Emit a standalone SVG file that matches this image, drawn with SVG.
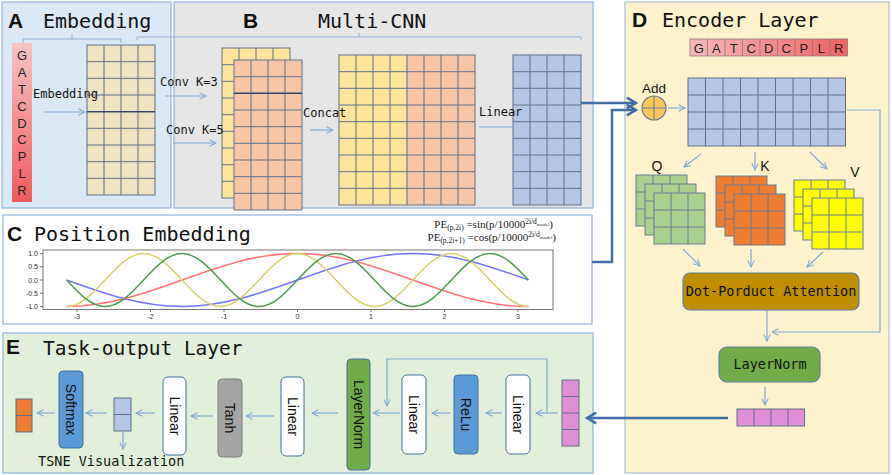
<svg xmlns="http://www.w3.org/2000/svg" xmlns:xlink="http://www.w3.org/1999/xlink" width="892" height="475" viewBox="0 0 892 475">
<style>
.title{font-family:"DejaVu Sans Mono","Liberation Mono",monospace;font-size:20px;fill:#111}
.letter{font-family:"Liberation Sans",Arial,sans-serif;font-weight:bold;font-size:21px;fill:#111}
.mono{font-family:"DejaVu Sans Mono","Liberation Mono",monospace;font-size:12px;fill:#111}
.seq{font-family:"Liberation Sans",Arial,sans-serif;font-size:13px;fill:#222;text-anchor:middle}
.sans{font-family:"Liberation Sans",Arial,sans-serif;font-size:14px;fill:#111;text-anchor:middle}
.vt{font-family:"Liberation Sans",Arial,sans-serif;font-size:14px;fill:#111;text-anchor:middle;dominant-baseline:central}
.grid{stroke:#5f6e86;stroke-width:1}
.gl{fill:none;stroke:#5f6e86;stroke-width:1}
.conn{fill:none;stroke:#7fa9d6;stroke-width:1.2}
.thick{fill:none;stroke:#3d6ea8;stroke-width:2.5}
.tick{font-family:"Liberation Sans",Arial,sans-serif;font-size:7px;fill:#333}
.box{stroke:#5f7fa6;stroke-width:1.2}
.frm{font-family:"Liberation Serif","Times New Roman",serif;font-size:11px;fill:#222}
</style>
<defs>
<marker id="ah" viewBox="0 0 10 10" refX="9" refY="5" markerWidth="8" markerHeight="8" orient="auto" markerUnits="userSpaceOnUse"><path d="M1,1 L9,5 L1,9" fill="none" stroke="#7fa9d6" stroke-width="1.3"/></marker>
<marker id="ahT" viewBox="0 0 12 12" refX="10.5" refY="6" markerWidth="13" markerHeight="13" orient="auto" markerUnits="userSpaceOnUse"><path d="M2,1 L10.5,6 L2,11" fill="none" stroke="#3d6ea8" stroke-width="2.4"/></marker>
<linearGradient id="seqV" x1="0" y1="0" x2="0" y2="1"><stop offset="0" stop-color="#f9c3c3"/><stop offset="1" stop-color="#ef5b5b"/></linearGradient>
<linearGradient id="seqH" x1="0" y1="0" x2="1" y2="0"><stop offset="0" stop-color="#f7b8b8"/><stop offset="1" stop-color="#ef6262"/></linearGradient>
<g id="g3"><rect width="51" height="51"/><path d="M17 0V51M34 0V51M0 17H51M0 34H51" fill="none"/></g>
</defs>

<!-- Panels -->
<g id="panelA">
<rect x="2" y="2" width="169" height="206" fill="#dbe8f5" stroke="#8fb3d9" stroke-width="1.2"/>
<text class="letter" x="8" y="28">A</text>
<text class="title" x="43" y="28">Embedding</text>
<path d="M23 43V39H121V43M72 39V35" fill="none" stroke="#8fb3d9" stroke-width="1"/>
</g>
<g id="panelB">
<rect x="174" y="2" width="419" height="206" fill="#e7e6e6" stroke="#8fb3d9" stroke-width="1.2"/>
<text class="letter" x="243" y="28">B</text>
<text class="title" x="318" y="28">Multi-CNN</text>
<path d="M137 40V37H581V40M359 37V33" fill="none" stroke="#8fb3d9" stroke-width="1"/>
</g>
<g id="panelC">
<rect x="3" y="215" width="589" height="109" fill="#ffffff" stroke="#8fb3d9" stroke-width="1.2"/>
<text class="letter" x="7" y="241">C</text>
<text class="title" x="34" y="241">Position Embedding</text>
</g>
<g id="panelD">
<rect x="625" y="2" width="264" height="471" fill="#fef2cc" stroke="#a8bfd6" stroke-width="1.2"/>
<text class="letter" x="632" y="27">D</text>
<text class="title" x="662" y="27">Encoder Layer</text>
</g>
<g id="panelE">
<rect x="3" y="333" width="590" height="140" fill="#e2efda" stroke="#8fb3d9" stroke-width="1.2"/>
<text class="letter" x="6" y="354">E</text>
<text class="title" x="43" y="355" style="font-size:19.5px">Task-output Layer</text>
</g>

<!-- Panel A nodes -->
<g id="seqA">
<rect x="12" y="43" width="20" height="159" fill="url(#seqV)"/>
<text class="seq" x="22" y="60">G</text>
<text class="seq" x="22" y="77">A</text>
<text class="seq" x="22" y="94">T</text>
<text class="seq" x="22" y="111">C</text>
<text class="seq" x="22" y="128">D</text>
<text class="seq" x="22" y="144">C</text>
<text class="seq" x="22" y="161">P</text>
<text class="seq" x="22" y="178">L</text>
<text class="seq" x="22" y="195">R</text>
</g>
<g id="embGrid">
<rect class="grid" x="87" y="45" width="68" height="150" fill="#efe4bf"/>
<path class="gl" d="M104 45V195M121 45V195M138 45V195M87 61.7H155M87 78.3H155M87 95H155M87 128.3H155M87 145H155M87 161.7H155M87 178.3H155"/>
<path d="M87 111.7H155" stroke="#34466a" stroke-width="1.4"/>
</g>

<!-- Panel B nodes -->
<g id="convStack">
<rect class="grid" x="222" y="48" width="68" height="150" fill="#fee59b"/>
<path class="gl" d="M239 48V198M256 48V198M273 48V198M222 64.7H290M222 81.3H290M222 98H290M222 114.7H290M222 131.3H290M222 148H290M222 164.7H290M222 181.3H290"/>
<rect class="grid" x="234" y="60" width="68" height="150" fill="#f8c6a4"/>
<path class="gl" d="M251 60V210M268 60V210M285 60V210M234 76.7H302M234 110H302M234 126.7H302M234 143.3H302M234 160H302M234 176.7H302M234 193.3H302"/>
<path d="M234 93.3H302" stroke="#34466a" stroke-width="1.4"/>
</g>
<g id="concatGrid">
<rect x="339" y="55" width="68" height="150" fill="#fee59b"/>
<rect x="407" y="55" width="68" height="150" fill="#f8c6a4"/>
<rect class="grid" x="339" y="55" width="136" height="150" fill="none"/>
<path class="gl" d="M356 55V205M373 55V205M390 55V205M407 55V205M424 55V205M441 55V205M458 55V205M339 71.7H475M339 88.3H475M339 105H475M339 121.7H475M339 138.3H475M339 155H475M339 171.7H475M339 188.3H475"/>
</g>
<g id="linearGrid">
<rect class="grid" x="513" y="55" width="68" height="150" fill="#b4c7e7"/>
<path class="gl" d="M530 55V205M547 55V205M564 55V205M513 71.7H581M513 88.3H581M513 105H581M513 121.7H581M513 138.3H581M513 155H581M513 171.7H581M513 188.3H581"/>
</g>
<g id="labelsB">
<text class="mono" x="33" y="98">Embedding</text>
<text class="mono" x="160" y="86">Conv K=3</text>
<text class="mono" x="166" y="134">Conv K=5</text>
<text class="mono" x="303" y="117">Concat</text>
<text class="mono" x="479" y="116">Linear</text>
</g>

<!-- Panel C plot -->
<g id="plotC">
<text class="frm" x="553" y="228" text-anchor="end">PE<tspan font-size="7.5" dy="2">(p,2i)</tspan><tspan dy="-2"> =sin(p/10000</tspan><tspan font-size="7.5" dy="-4">2i/d</tspan><tspan font-size="5" dy="1.5">model</tspan><tspan dy="2.5">)</tspan></text>
<text class="frm" x="556" y="241" text-anchor="end">PE<tspan font-size="7.5" dy="2">(p,2i+1)</tspan><tspan dy="-2"> =cos(p/10000</tspan><tspan font-size="7.5" dy="-4">2i/d</tspan><tspan font-size="5" dy="1.5">model</tspan><tspan dy="2.5">)</tspan></text>
<rect x="43" y="250" width="510" height="59.5" fill="none" stroke="#555" stroke-width="0.8"/>
<path d="M40 253.5H43M40 266.75H43M40 280H43M40 293.25H43M40 306.5H43M77 309.5V312M150.5 309.5V312M224 309.5V312M297.5 309.5V312M371 309.5V312M444.5 309.5V312M518 309.5V312" stroke="#555" stroke-width="0.8"/>
<g class="tick" text-anchor="end">
<text x="38" y="256">1.0</text><text x="38" y="269">0.5</text><text x="38" y="282.5">0.0</text><text x="38" y="296">-0.5</text><text x="38" y="309">-1.0</text>
</g>
<g class="tick" text-anchor="middle">
<text x="77" y="319">-3</text><text x="150.5" y="319">-2</text><text x="224" y="319">-1</text><text x="297.5" y="319">0</text><text x="371" y="319">1</text><text x="444.5" y="319">2</text><text x="518" y="319">3</text>
</g>
<path fill="none" stroke="#7474ff" stroke-width="1.5" d="M66.6 280c37.65 13.58 73.67 26.5 115.45 26.5c41.79 0 77.8-12.92 115.45-26.5c37.65-13.58 73.67-26.5 115.45-26.5c41.79 0 77.8 12.92 115.45 26.5"/>
<path fill="none" stroke="#ff7272" stroke-width="1.5" d="M66.6 306.5c41.79 0 77.8-12.92 115.45-26.5c37.65-13.58 73.67-26.5 115.45-26.5c41.79 0 77.8 12.92 115.45 26.5c37.65 13.58 73.67 26.5 115.45 26.5"/>
<path fill="none" stroke="#d8d26a" stroke-width="1.5" d="M66.6 306.5c13.93 0 25.93-12.92 38.48-26.5c12.55-13.58 24.56-26.5 38.48-26.5c13.930 0 25.93 12.92 38.48 26.5c12.55 13.58 24.56 26.5 38.48 26.5c13.93 0 25.93-12.92 38.48-26.5c12.55-13.58 24.56-26.5 38.48-26.5c13.93 0 25.93 12.92 38.48 26.5c12.55 13.58 24.56 26.5 38.48 26.5c13.93 0 25.93-12.92 38.48-26.5c12.55-13.58 24.56-26.5 38.48-26.5c13.93 0 25.93 12.92 38.48 26.5c12.55 13.58 24.56 26.5 38.48 26.5"/>
<path fill="none" stroke="#4c9c4c" stroke-width="1.5" d="M66.6 280c12.55 13.58 24.56 26.5 38.48 26.5c13.93 0 25.93-12.92 38.48-26.5c12.55-13.58 24.56-26.5 38.48-26.5c13.93 0 25.93 12.92 38.48 26.5c12.55 13.58 24.56 26.5 38.48 26.5c13.93 0 25.93-12.92 38.48-26.5c12.55-13.58 24.56-26.5 38.48-26.5c13.93 0 25.93 12.92 38.48 26.5c12.55 13.58 24.56 26.5 38.48 26.5c13.93 0 25.93-12.92 38.48-26.5c12.55-13.58 24.56-26.5 38.48-26.5c13.93 0 25.93 12.92 38.48 26.5"/>
</g>

<!-- Panel D nodes -->
<g id="seqD">
<rect x="690" y="39" width="157.5" height="17" fill="url(#seqH)" stroke="#8a7a7a" stroke-width="0.8"/>
<path d="M707.5 39V56M725 39V56M742.5 39V56M760 39V56M777.5 39V56M795 39V56M812.5 39V56M830 39V56" stroke="#8a7a7a" stroke-width="0.8"/>
<text class="seq" x="698.75" y="52.5">G</text><text class="seq" x="716.25" y="52.5">A</text><text class="seq" x="733.75" y="52.5">T</text><text class="seq" x="751.25" y="52.5">C</text><text class="seq" x="768.75" y="52.5">D</text><text class="seq" x="786.25" y="52.5">C</text><text class="seq" x="803.75" y="52.5">P</text><text class="seq" x="821.25" y="52.5">L</text><text class="seq" x="838.75" y="52.5">R</text>
</g>
<g id="add">
<text class="sans" x="654" y="93" style="font-size:13.5px">Add</text>
<circle cx="654" cy="108" r="12" fill="#f8c65a" stroke="#6b7b93" stroke-width="1.2"/>
<path d="M642 108H666M654 96V120" stroke="#6b7b93" stroke-width="1"/>
</g>
<g id="encGrid">
<rect class="grid" x="688" y="78" width="157.5" height="68" fill="#b4c7e7"/>
<path class="gl" d="M705.5 78V146M723 78V146M740.5 78V146M758 78V146M775.5 78V146M793 78V146M810.5 78V146M828 78V146M688 95H845.5M688 112H845.5M688 129H845.5"/>
</g>
<g id="Q">
<text class="sans" x="657" y="171">Q</text>
<use xlink:href="#g3" x="636" y="175" fill="#a9d18e" stroke="#6b7b93"/>
<use xlink:href="#g3" x="645" y="184" fill="#a9d18e" stroke="#6b7b93"/>
<use xlink:href="#g3" x="654" y="193" fill="#a9d18e" stroke="#6b7b93"/>
</g>
<g id="K">
<text class="sans" x="765" y="171">K</text>
<use xlink:href="#g3" x="716" y="176" fill="#ed7d31" stroke="#6b7b93"/>
<use xlink:href="#g3" x="725" y="185" fill="#ed7d31" stroke="#6b7b93"/>
<use xlink:href="#g3" x="734" y="194" fill="#ed7d31" stroke="#6b7b93"/>
</g>
<g id="V">
<text class="sans" x="855" y="177">V</text>
<use xlink:href="#g3" x="794" y="180" fill="#ffff00" stroke="#6b7b93"/>
<use xlink:href="#g3" x="803" y="189" fill="#ffff00" stroke="#6b7b93"/>
<use xlink:href="#g3" x="812" y="198" fill="#ffff00" stroke="#6b7b93"/>
</g>
<g id="attention">
<rect class="box" x="683" y="273" width="176" height="37" rx="7" fill="#bf8f00"/>
<text class="mono" x="771" y="296" text-anchor="middle" style="font-size:13.5px">Dot-Porduct Attention</text>
</g>
<g id="layerNormD">
<rect class="box" x="719" y="347" width="101" height="35" rx="8" fill="#70ad47"/>
<text class="mono" x="770" y="369" text-anchor="middle" style="font-size:13.5px">LayerNorm</text>
</g>
<g id="outRow">
<rect class="grid" x="737" y="409" width="67.5" height="17" fill="#df8fd6"/>
<path class="gl" d="M754 409V426M771 409V426M788 409V426"/>
</g>

<!-- Panel E nodes -->
<g id="outE">
<rect class="grid" x="16" y="399" width="16" height="33" fill="#ed7d31"/>
<path class="gl" d="M16 415.5H32"/>
</g>
<g id="softmax">
<rect x="59" y="371" width="24" height="77" rx="4" fill="#5b9bd5" stroke="#41719c" stroke-width="1"/>
<text class="vt" transform="translate(71 409.5) rotate(90)">Softmax</text>
</g>
<g id="tsneVec">
<rect class="grid" x="114" y="398" width="17" height="33" fill="#b4c7e7"/>
<path class="gl" d="M114 414.5H131"/>
<text class="mono" x="38" y="466" style="font-size:13.5px">TSNE Visualization</text>
</g>
<g id="linear3">
<rect x="163" y="377" width="23" height="78" rx="5" fill="#ffffff" stroke="#41719c" stroke-width="1"/>
<text class="vt" transform="translate(174.5 416) rotate(90)">Linear</text>
</g>
<g id="tanh">
<rect x="218" y="379" width="24" height="78" rx="4" fill="#a5a5a5" stroke="#7f7f7f" stroke-width="1"/>
<text class="vt" transform="translate(230 418) rotate(90)">Tanh</text>
</g>
<g id="linear2b">
<rect x="281" y="377" width="23" height="79" rx="5" fill="#ffffff" stroke="#41719c" stroke-width="1"/>
<text class="vt" transform="translate(292.5 416.5) rotate(90)">Linear</text>
</g>
<g id="layerNormE">
<rect x="347" y="359" width="23" height="111" rx="4" fill="#70ad47" stroke="#41719c" stroke-width="1"/>
<text class="vt" transform="translate(358.5 414.5) rotate(90)">LayerNorm</text>
</g>
<g id="linear2">
<rect x="402" y="375" width="24" height="79" rx="5" fill="#ffffff" stroke="#41719c" stroke-width="1"/>
<text class="vt" transform="translate(414 414.5) rotate(90)">Linear</text>
</g>
<g id="relu">
<rect x="454" y="375" width="24" height="79" rx="4" fill="#5b9bd5" stroke="#41719c" stroke-width="1"/>
<text class="vt" transform="translate(466 414.5) rotate(90)">ReLu</text>
</g>
<g id="linear1">
<rect x="506" y="375" width="24" height="79" rx="5" fill="#ffffff" stroke="#41719c" stroke-width="1"/>
<text class="vt" transform="translate(518 414.5) rotate(90)">Linear</text>
</g>
<g id="inE">
<rect class="grid" x="562" y="380" width="17" height="66" fill="#df8fd6"/>
<path class="gl" d="M562 396.5H579M562 413H579M562 429.5H579"/>
</g>

<!-- Connectors -->
<g id="connectors">
<path class="conn" marker-end="url(#ah)" d="M44 112H85"/>
<path class="conn" marker-end="url(#ah)" d="M165 96H206"/>
<path class="conn" marker-end="url(#ah)" d="M173 143H216"/>
<path class="conn" marker-end="url(#ah)" d="M310 130H333"/>
<path class="conn" d="M479 127H513"/>
<path class="thick" marker-end="url(#ahT)" d="M581 103H636"/>
<path class="thick" marker-end="url(#ahT)" d="M592 262H612V110H636"/>
<path class="conn" marker-end="url(#ah)" d="M668 108H685"/>
<path class="conn" marker-end="url(#ah)" d="M847 110H880V332H772"/>
<path class="conn" marker-end="url(#ah)" d="M701 154L684 167"/>
<path class="conn" marker-end="url(#ah)" d="M755 152V170"/>
<path class="conn" marker-end="url(#ah)" d="M810 152L827 169"/>
<path class="conn" marker-end="url(#ah)" d="M683 249L700 266"/>
<path class="conn" marker-end="url(#ah)" d="M751 249V267"/>
<path class="conn" marker-end="url(#ah)" d="M823 252L807 267"/>
<path class="conn" marker-end="url(#ah)" d="M767 310V341"/>
<path class="conn" marker-end="url(#ah)" d="M765 387V405"/>
<path class="thick" marker-end="url(#ahT)" d="M728 418H587"/>
<path class="conn" marker-end="url(#ah)" d="M558 413H536"/>
<path class="conn" marker-end="url(#ah)" d="M547 413V359H387V406"/>
<path class="conn" marker-end="url(#ah)" d="M502 413H486"/>
<path class="conn" marker-end="url(#ah)" d="M450 413H432"/>
<path class="conn" marker-end="url(#ah)" d="M400 413H373"/>
<path class="conn" marker-end="url(#ah)" d="M338 413H312"/>
<path class="conn" marker-end="url(#ah)" d="M274 416H246"/>
<path class="conn" marker-end="url(#ah)" d="M213 416H191"/>
<path class="conn" marker-end="url(#ah)" d="M155 413H136"/>
<path class="conn" marker-end="url(#ah)" d="M123 431V449"/>
<path class="conn" marker-end="url(#ah)" d="M107 413H86"/>
<path class="conn" marker-end="url(#ah)" d="M55 413H37"/>
</g>
</svg>
